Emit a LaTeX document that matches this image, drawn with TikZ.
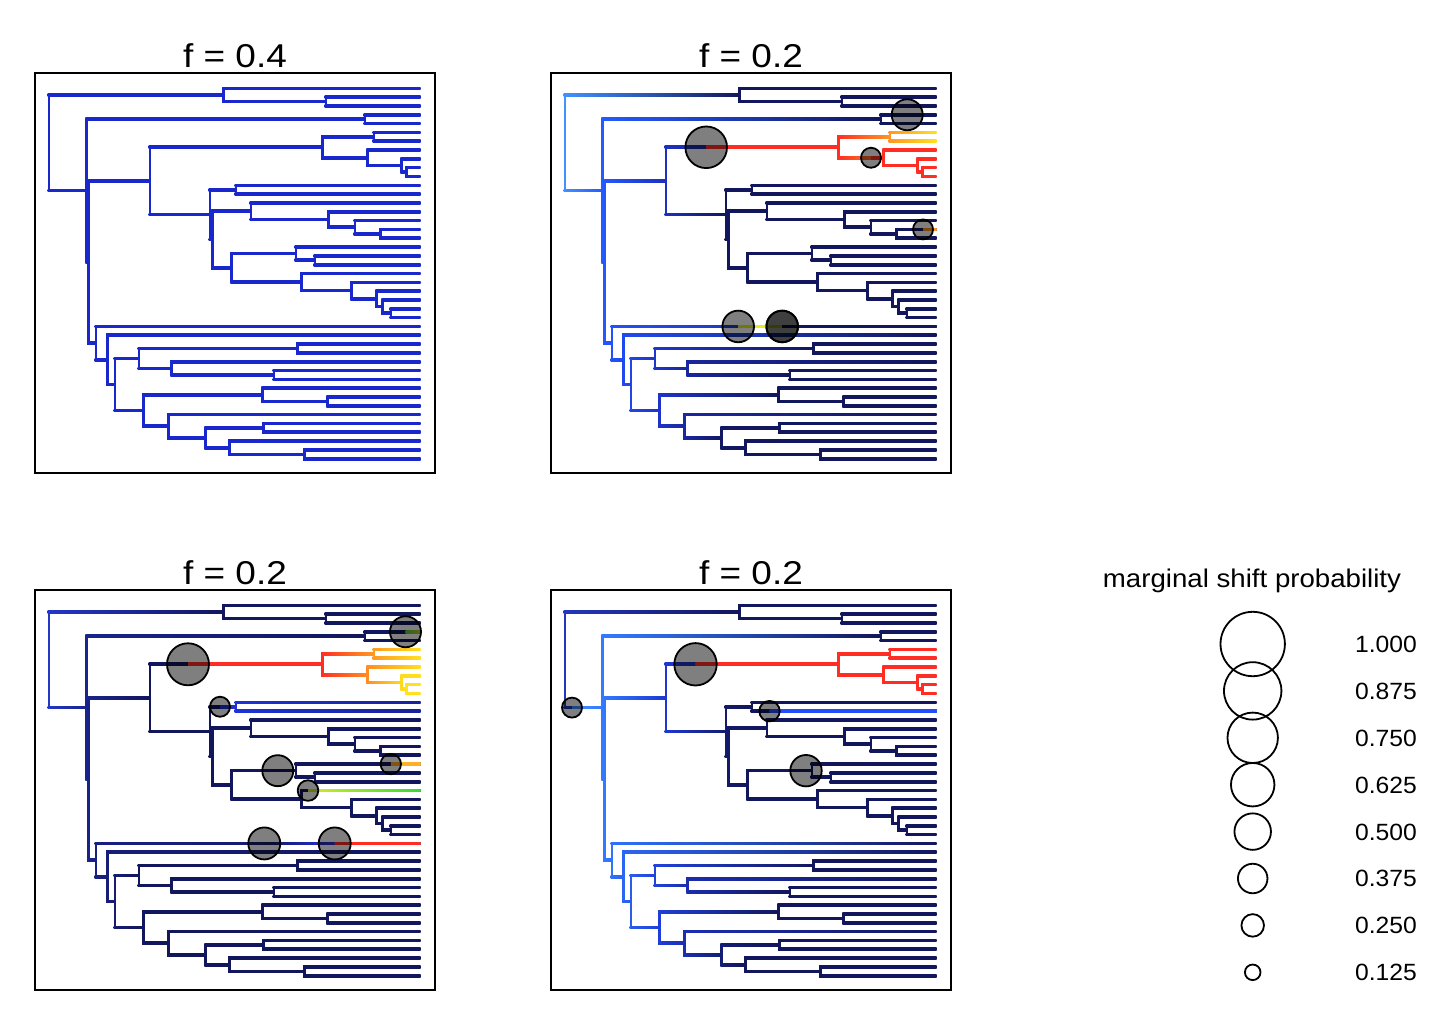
\documentclass[tikz,border=0pt]{standalone}
\usepackage{fontspec}
\setmainfont{Liberation Sans}
\usepackage{graphicx}
\usetikzlibrary{calc}
\definecolor{navy}{RGB}{18,22,92}
\definecolor{pblue}{RGB}{24,40,205}
\definecolor{lblue}{RGB}{65,145,255}
\definecolor{bblue}{RGB}{35,85,255}
\definecolor{mblue}{RGB}{30,50,200}
\definecolor{dblue}{RGB}{24,34,135}
\definecolor{rred}{RGB}{255,45,35}
\definecolor{orng}{RGB}{255,150,35}
\definecolor{ylw}{RGB}{255,225,30}
\definecolor{lime}{RGB}{225,240,30}
\definecolor{grn}{RGB}{50,220,50}
\definecolor{yg1}{RGB}{90,200,60}
\definecolor{yg2}{RGB}{190,205,40}
\definecolor{orng2}{RGB}{255,175,40}
\definecolor{ylw3}{RGB}{215,235,40}
\definecolor{blue3}{RGB}{30,50,215}
\definecolor{blue3m}{RGB}{25,40,175}
\definecolor{blue3d}{RGB}{22,32,150}
\definecolor{blue4}{RGB}{40,50,220}
\definecolor{blue5}{RGB}{35,75,255}
\definecolor{p3root}{RGB}{35,55,200}
\definecolor{p4root}{RGB}{35,55,190}
\definecolor{p4mid}{RGB}{22,30,120}
\definecolor{p4b2}{RGB}{50,120,255}
\definecolor{p4b3}{RGB}{30,55,210}
\makeatletter
\newcommand\nd[3]{\expandafter\def\csname nx@#1\endcsname{#2}\expandafter\def\csname ny@#1\endcsname{#3}}
\newcommand\NX[1]{\csname nx@#1\endcsname}
\newcommand\NY[1]{\csname ny@#1\endcsname}
\newcommand\regime[9]{\expandafter\def\csname rg@#1\endcsname{{#2}{#3}{#4}{#5}{#6}{#7}{#8}{#9}}}
\newcommand\rgcol[2]{\edef\rg@x{#2}\expandafter\expandafter\expandafter\rg@col\csname rg@#1\endcsname}
\def\rg@col#1#2#3#4#5#6#7#8{%
 \ifdim\rg@x pt<#3pt\relax\rg@mix{#1}{#2}{#3}{#4}\else
 \ifdim\rg@x pt<#5pt\relax\rg@mix{#3}{#4}{#5}{#6}\else
 \ifdim\rg@x pt<#7pt\relax\rg@mix{#5}{#6}{#7}{#8}\else
 \colorlet{rgout}{#8}\fi\fi\fi}
\def\rg@mix#1#2#3#4{\pgfmathsetmacro\rg@p{100*max(0,min(1,(\rg@x-(#1))/((#3)-(#1))))}\colorlet{rgout}{#4!\rg@p!#2}}
\newcommand\setreg[2]{\@for\sr@i:=#1\do{\expandafter\edef\csname brreg@\sr@i\endcsname{#2}}}
\def\hw{1.3}
\newcommand\br[2]{%
 \ifcsname brreg@#2\endcsname\edef\curreg{\csname brreg@#2\endcsname}\else\edef\curreg{\defreg}\fi
 \edef\px{\NX{#1}}\edef\py{\NY{#1}}\edef\cx{\NX{#2}}\edef\cy{\NY{#2}}%
 \rgcol{\curreg}{\px}\colorlet{cS}{rgout}%
 \rgcol{\curreg}{\cx}\colorlet{cE}{rgout}%
 \draw[brline,draw=cS] (\px,\py) -- (\px,\cy);
 \shade[left color=cS,right color=cE] (\px-\hw,\cy-\hw) rectangle (\cx,\cy+\hw);}
\newcommand\hseg[4]{\edef\hy{#4}\rgcol{#1}{#2}\colorlet{cS}{rgout}\rgcol{#1}{#3}\colorlet{cE}{rgout}%
 \shade[left color=cS,right color=cE] (#2,\hy-\hw) rectangle (#3,\hy+\hw);}
\newcommand\hsegc[5]{\edef\hy{#3}\shade[left color=#4,right color=#5] (#1,\hy-\hw) rectangle (#2,\hy+\hw);}
\newcommand\sh[3]{\edef\hy{#2}\path[shiftc] (#1,\hy) circle (#3);}
\makeatother
\regime{p1}{0}{pblue}{100}{pblue}{200}{pblue}{300}{pblue}
\regime{p2}{49}{lblue}{90}{bblue}{145}{mblue}{210}{navy}
\regime{p2red}{190}{rred}{322}{rred}{374}{orng}{410}{ylw}
\regime{p2r2}{0}{rred}{100}{rred}{200}{rred}{300}{rred}
\regime{p3}{49}{p3root}{90}{dblue}{140}{navy}{400}{navy}
\regime{p3red}{180}{rred}{322}{rred}{372}{orng}{405}{ylw}
\regime{p3b}{200}{blue3}{250}{blue3}{380}{blue3m}{430}{blue3d}
\regime{p4a}{49}{p4root}{100}{p4mid}{160}{navy}{400}{navy}
\regime{p4b}{55}{lblue}{90}{p4b2}{150}{p4b3}{220}{navy}
\regime{p4red}{0}{rred}{100}{rred}{200}{rred}{300}{rred}
% tips
\foreach \i in {0,...,42}{\pgfmathsetmacro\ty{88.3+8.82*\i}\expandafter\xdef\csname ny@t\i\endcsname{\ty}\expandafter\xdef\csname nx@t\i\endcsname{420.7}}
% internal nodes
\nd{R}{49}{142.76}
\nd{A}{223.3}{94.915}
\nd{a12}{326}{101.53}
\nd{B}{86.7}{190.61}
\nd{c34}{365}{119.17}
\nd{C}{88.3}{262.055}
\nd{D}{150}{180.96}
\nd{E}{322.3}{147.28}
\nd{e56}{374}{136.81}
\nd{e7}{367.7}{157.7575}
\nd{e8}{401.7}{165.475}
\nd{e910}{406.7}{172.09}
\nd{F}{210}{214.64}
\nd{f1112}{236}{189.73}
\nd{G}{212.3}{239.55}
\nd{g13}{251}{211.23}
\nd{g14}{328.3}{219.4975}
\nd{g15}{355}{227.215}
\nd{g16}{380.7}{233.83}
\nd{H}{231.7}{267.87}
\nd{h18}{296}{253.675}
\nd{h19}{315}{260.29}
\nd{h21}{301.7}{282.064}
\nd{h22}{351.7}{290.609}
\nd{h23}{376.7}{298.8775}
\nd{h24}{382.7}{306.595}
\nd{h25}{391}{313.21}
\nd{I}{96}{343.15}
\nd{J}{107.3}{359.86}
\nd{K}{115}{384.46}
\nd{L}{139}{358.41}
\nd{l2930}{297.3}{348.49}
\nd{l31}{171.7}{368.335}
\nd{l3233}{274}{374.95}
\nd{M}{143.3}{410.505}
\nd{m34}{262.7}{394.795}
\nd{m3536}{327.7}{401.41}
\nd{m37}{168.3}{426.215}
\nd{m38}{205.7}{437.79}
\nd{m3839}{263.3}{427.87}
\nd{m40}{229.3}{447.715}
\nd{m4142}{304.3}{454.33}
\newcommand\drawtree{%
\br{R}{A}\br{A}{t0}\br{A}{a12}\br{a12}{t1}\br{a12}{t2}%
\br{R}{B}\br{B}{c34}\br{c34}{t3}\br{c34}{t4}%
\br{B}{C}\br{C}{D}\br{D}{E}\br{E}{e56}\br{e56}{t5}\br{e56}{t6}\br{E}{e7}\br{e7}{t7}\br{e7}{e8}\br{e8}{t8}\br{e8}{e910}\br{e910}{t9}\br{e910}{t10}%
\br{D}{F}\br{F}{f1112}\br{f1112}{t11}\br{f1112}{t12}\br{F}{G}\br{G}{g13}\br{g13}{t13}\br{g13}{g14}\br{g14}{t14}\br{g14}{g15}\br{g15}{t15}\br{g15}{g16}\br{g16}{t16}\br{g16}{t17}%
\br{G}{H}\br{H}{h18}\br{h18}{t18}\br{h18}{h19}\br{h19}{t19}\br{h19}{t20}\br{H}{h21}\br{h21}{t21}\br{h21}{h22}\br{h22}{t22}\br{h22}{h23}\br{h23}{t23}\br{h23}{h24}\br{h24}{t24}\br{h24}{h25}\br{h25}{t25}\br{h25}{t26}%
\br{C}{I}\br{I}{t27}\br{I}{J}\br{J}{t28}\br{J}{K}\br{K}{L}\br{L}{l2930}\br{l2930}{t29}\br{l2930}{t30}\br{L}{l31}\br{l31}{t31}\br{l31}{l3233}\br{l3233}{t32}\br{l3233}{t33}%
\br{K}{M}\br{M}{m34}\br{m34}{t34}\br{m34}{m3536}\br{m3536}{t35}\br{m3536}{t36}\br{M}{m37}\br{m37}{t37}\br{m37}{m38}\br{m38}{m3839}\br{m3839}{t38}\br{m3839}{t39}\br{m38}{m40}\br{m40}{t40}\br{m40}{m4142}\br{m4142}{t41}\br{m4142}{t42}}
\begin{document}
\begin{tikzpicture}[x=1pt,y=-1pt,
  brline/.style={line width=2.6pt,line cap=rect},
  shiftc/.style={fill=black,fill opacity=0.5,draw=black,line width=1.8pt},
  frame/.style={draw=black,line width=1.8pt},
  ttl/.style={anchor=base,inner sep=0pt,font=\fontsize{33}{40}\selectfont},
  legc/.style={draw=black,line width=1.8pt},
  legl/.style={anchor=base east,inner sep=0pt,font=\fontsize{23.5}{28}\selectfont}]
\fill[white] (0,0) rectangle (1446,1028);
\useasboundingbox (0,0) rectangle (1446,1028);
% ---- panel 1
\begin{scope}
 \def\defreg{p1}
 \drawtree
 \draw[frame] (35,73) rectangle (435,473);
 \node[ttl] (t1title) at (235,67.3) {\scalebox{1.12}[1]{f = 0.4}};
\end{scope}
% ---- panel 2
\begin{scope}[shift={(516,0)}]
 \def\defreg{p2}
 \setreg{e56,t5,t6,e7}{p2red}
 \setreg{t7,e8,t8,e910,t9,t10}{p2r2}
 \drawtree
 \hseg{p2red}{190.2}{322.3}{\NY{E}}
 \hsegc{355}{367.7}{\NY{e7}}{rred}{rred}
 \hsegc{407}{420.7}{\NY{t16}}{orng}{orng}
 \hsegc{222.2}{266.2}{\NY{t27}}{lime}{lime}
 \hsegc{266.2}{420.7}{\NY{t27}}{navy}{navy}
 \sh{190.2}{\NY{E}}{20.8}
 \sh{391.2}{\NY{t3}}{15.5}
 \sh{355}{\NY{e7}}{10}
 \sh{407}{\NY{t16}}{10}
 \sh{222.2}{\NY{t27}}{15.8}
 \sh{266.2}{\NY{t27}}{15.8}
 \sh{266.2}{\NY{t27}}{15.8}
 \draw[frame] (35,73) rectangle (435,473);
 \node[ttl] (t2title) at (235,67.3) {\scalebox{1.12}[1]{f = 0.2}};
\end{scope}
% ---- panel 3
\begin{scope}[shift={(0,517)}]
 \def\defreg{p3}
 \setreg{e56,t5,t6,e7,t7,e8,t8,e910,t9,t10}{p3red}
 \setreg{t11,t12}{p3b}
 \drawtree
 \hseg{p3red}{188}{322.3}{\NY{E}}
 \hseg{p3b}{220}{236}{\NY{f1112}}
 \hsegc{405.5}{420.7}{\NY{t3}}{yg1}{yg2}
 \hsegc{390.8}{420.7}{\NY{t18}}{orng2}{orng2}
 \hsegc{308}{420.7}{\NY{t21}}{ylw3}{grn}
 \hsegc{264.3}{334.7}{\NY{t27}}{navy}{blue4}
 \hsegc{334.7}{420.7}{\NY{t27}}{rred}{rred}
 \sh{405.5}{\NY{t3}}{15.5}
 \sh{188}{\NY{E}}{21}
 \sh{220}{\NY{f1112}}{10}
 \sh{277.8}{\NY{h18}}{15.5}
 \sh{390.8}{\NY{t18}}{10.2}
 \sh{308}{\NY{t21}}{10.3}
 \sh{264.3}{\NY{t27}}{16}
 \sh{334.7}{\NY{t27}}{16}
 \draw[frame] (35,73) rectangle (435,473);
 \node[ttl] (t3title) at (235,67.3) {\scalebox{1.12}[1]{f = 0.2}};
\end{scope}
% ---- panel 4
\begin{scope}[shift={(516,517)}]
 \def\defreg{p4b}
 \setreg{A,a12,t0,t1,t2,B}{p4a}
 \setreg{e56,t5,t6,e7,t7,e8,t8,e910,t9,t10}{p4red}
 \drawtree
 \hseg{p4b}{56}{86.7}{\NY{B}}
 \hseg{p4red}{179.5}{322.3}{\NY{E}}
 \hsegc{253.5}{420.7}{\NY{t12}}{blue5}{blue5}
 \sh{56}{\NY{B}}{10}
 \sh{179.5}{\NY{E}}{21.2}
 \sh{253.5}{\NY{t12}}{10.2}
 \sh{290}{\NY{h18}}{15.7}
 \draw[frame] (35,73) rectangle (435,473);
 \node[ttl] (t4title) at (235,67.3) {\scalebox{1.12}[1]{f = 0.2}};
\end{scope}
% ---- legend
\node[anchor=base,inner sep=0pt,font=\fontsize{25.6}{30}\selectfont] (legtitle) at (1252,587.3) {\scalebox{1.08}[1]{marginal shift probability}};
\foreach \p/\lab [count=\k from 0] in {1/1.000,0.875/0.875,0.75/0.750,0.625/0.625,0.5/0.500,0.375/0.375,0.25/0.250,0.125/0.125}{
 \pgfmathsetmacro\ly{644+46.9*\k}
 \pgfmathsetmacro\lr{4.3+27.9*\p}
 \draw[legc] (1252.7,\ly) circle (\lr);
 \node[legl] (lab\k) at (1417,\ly+8.4) {\scalebox{1.05}[1]{\lab}};
}
\end{tikzpicture}
\end{document}
